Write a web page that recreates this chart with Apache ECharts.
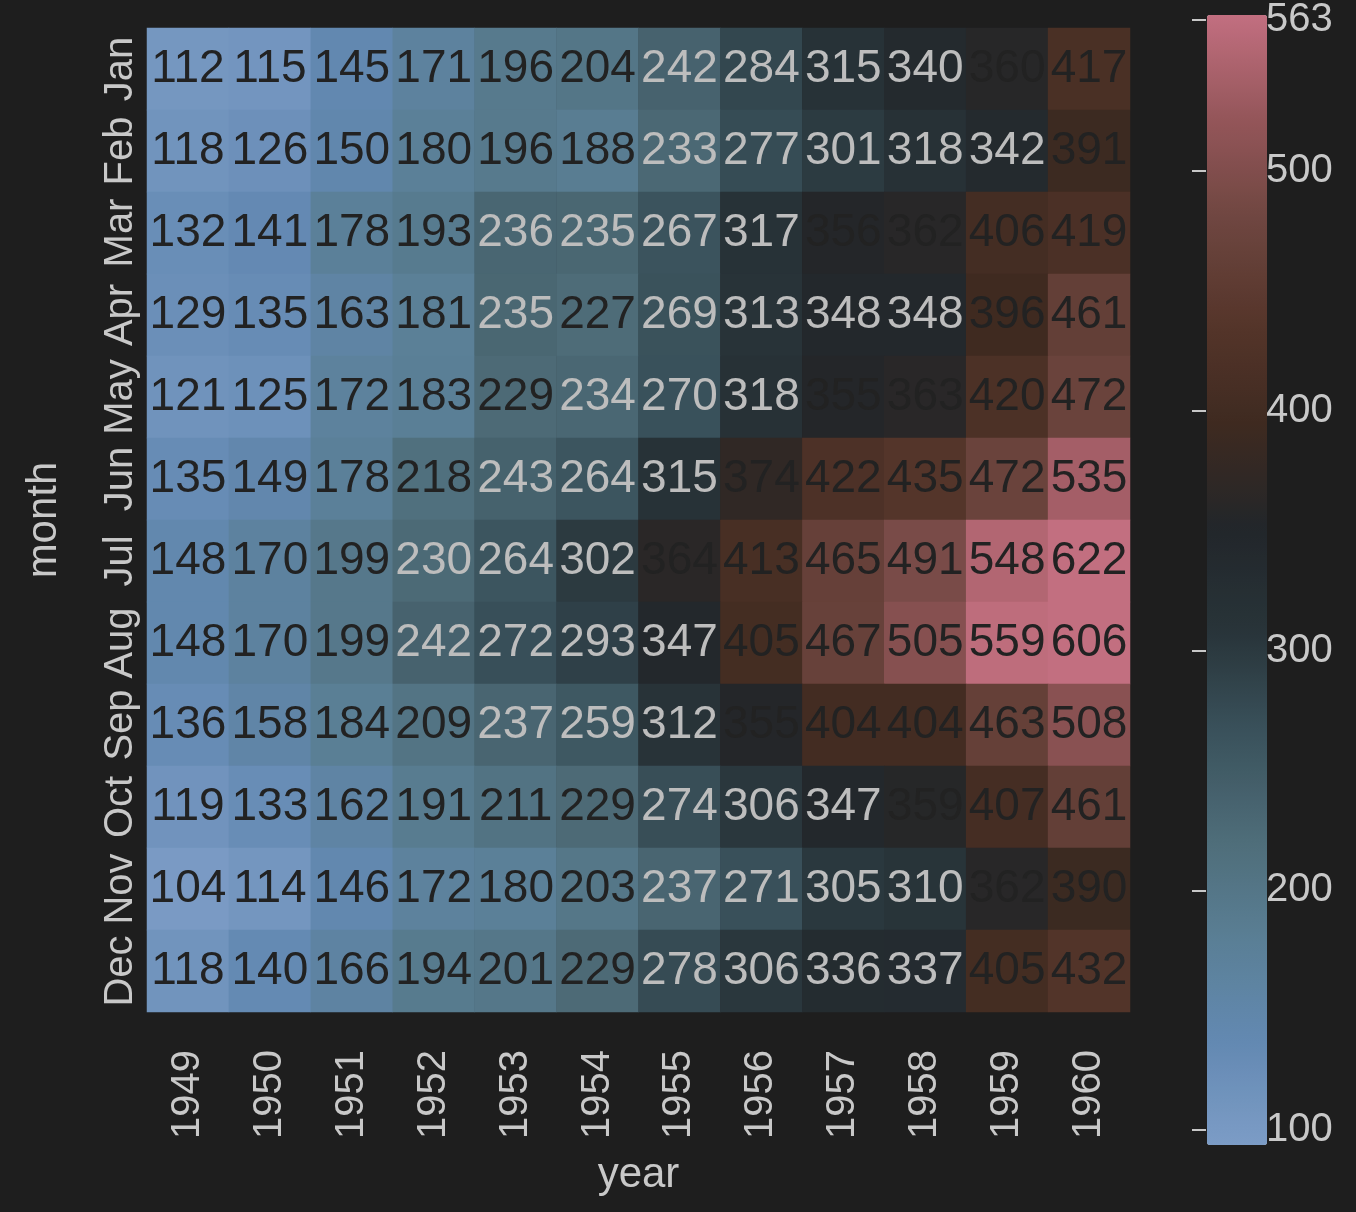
<!DOCTYPE html>
<html><head><meta charset="utf-8">
<script src="https://cdn.jsdelivr.net/npm/echarts@6/dist/echarts.min.js"></script>
<style>html,body{margin:0;background:#1e1e1e}#main{width:1356px;height:1212px}</style>
</head><body><div id="main"></div>
<script>
let years = ['1949','1950','1951','1952','1953','1954','1955','1956','1957','1958','1959','1960'];
let months = ['Jan','Feb','Mar','Apr','May','Jun','Jul','Aug','Sep','Oct','Nov','Dec'];
// rows = months, cols = years
let passengers = [
  [112,115,145,171,196,204,242,284,315,340,360,417],
  [118,126,150,180,196,188,233,277,301,318,342,391],
  [132,141,178,193,236,235,267,317,356,362,406,419],
  [129,135,163,181,235,227,269,313,348,348,396,461],
  [121,125,172,183,229,234,270,318,355,363,420,472],
  [135,149,178,218,243,264,315,374,422,435,472,535],
  [148,170,199,230,264,302,364,413,465,491,548,622],
  [148,170,199,242,272,293,347,405,467,505,559,606],
  [136,158,184,209,237,259,312,355,404,404,463,508],
  [119,133,162,191,211,229,274,306,347,359,407,461],
  [104,114,146,172,180,203,237,271,305,310,362,390],
  [118,140,166,194,201,229,278,306,336,337,405,432]
];
let colorStops = ['#7c9cc6','#6389b2','#5a7f95','#4e6c78','#3a525c','#283439',
                  '#22262a','#3e2a20','#55352a','#6e4640','#95565a','#c26f80'];

let data = [];
passengers.forEach((row, m) => {
    row.forEach((v, y) => {
        let light = v >= 230 && v < 350;
        data.push({ value: [y, m, v], label: { color: light ? '#bdbdbd' : '#222222' } });
    });
});

var myChart = echarts.init(document.getElementById('main'));
var option = {
    backgroundColor: '#1e1e1e',
    textStyle: { fontFamily: 'Liberation Sans' },
    grid: [
        { left: 147, top: 28, width: 983, height: 984 },
        { left: 1192, top: 0, width: 60, height: 1130, show: false }
    ],
    xAxis: [{
        type: 'category', data: years, name: 'year', nameLocation: 'middle', nameGap: 142,
        nameTextStyle: { color: '#c8c8c8', fontSize: 42 },
        axisLine: { show: false }, axisTick: { show: false },
        axisLabel: { rotate: 90, color: '#c8c8c8', fontSize: 40, margin: 38, interval: 0 }
    }, { gridIndex: 1, type: 'value', show: false }],
    yAxis: [{
        type: 'category', data: months, inverse: true, name: 'month', nameLocation: 'middle', nameGap: 82,
        nameTextStyle: { color: '#c8c8c8', fontSize: 42 },
        axisLine: { show: false }, axisTick: { show: false },
        axisLabel: { rotate: 90, color: '#c8c8c8', fontSize: 40, margin: 6, interval: 0 }
    }, {
        gridIndex: 1, type: 'value', position: 'right', min: 100, max: 563, interval: 100,
        axisLine: { show: false }, splitLine: { show: false },
        axisTick: { show: true, length: 14, lineStyle: { color: '#c8c8c8', width: 2 } },
        axisLabel: { color: '#c8c8c8', fontSize: 40, margin: 14 }
    }],
    visualMap: {
        type: 'continuous', min: 100, max: 563, calculable: false, show: true,
        left: 1192, top: 0, itemWidth: 60, itemHeight: 1130,
        text: ['', ''], showLabel: false,
        inRange: { color: colorStops }
    },
    series: [{
        type: 'heatmap', data: data,
        label: { show: true, fontSize: 46, fontFamily: 'Liberation Sans' },
        itemStyle: { borderWidth: 0 }
    }]
};
myChart.setOption(option);
</script></body></html>
